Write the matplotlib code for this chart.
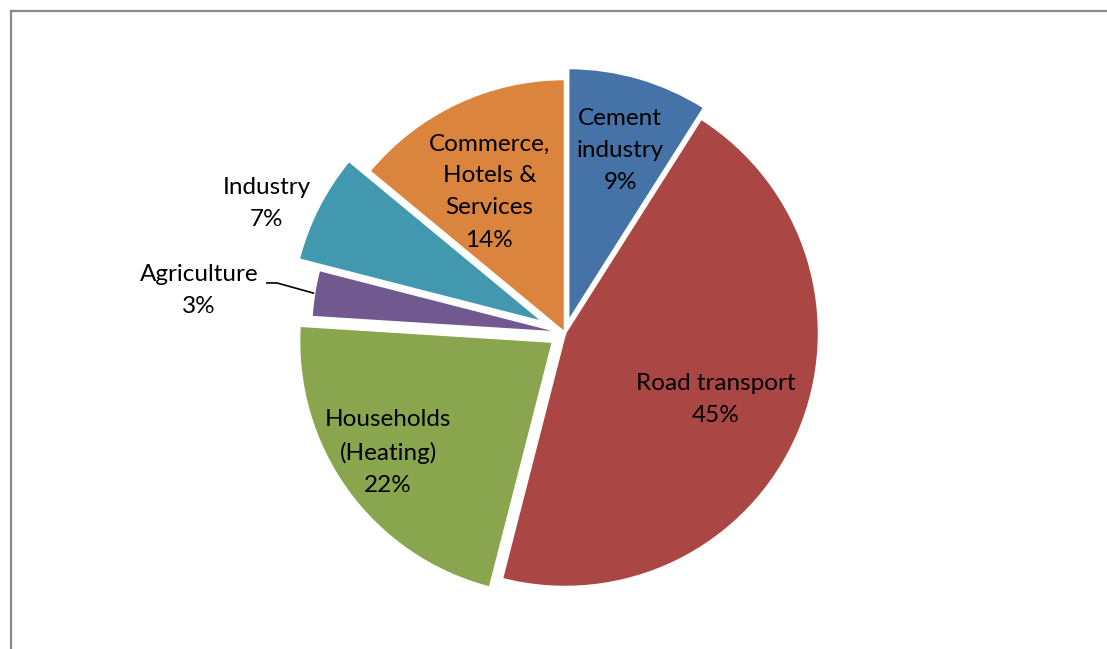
import numpy as np
import matplotlib
matplotlib.use("Agg")
import matplotlib.pyplot as plt
from matplotlib.lines import Line2D

sectors = ["Cement\nindustry", "Road transport", "Households\n(Heating)",
           "Agriculture", "Industry", "Commerce,\nHotels &\nServices"]
shares = [9, 45, 22, 3, 7, 14]
colors = ["#4572A7", "#AA4643", "#89A54E", "#71588F", "#4198AF", "#DB843D"]
explode = [0.045, 0, 0.058, 0, 0.09, 0]

# label placement: (radius, angle offset in degrees) relative to wedge middle
label_pos = [(0.75, -0.6), (0.65, -0.4), (0.84, -2.0), (1.45, 2.4), (1.28, 3.5), (0.63, 3.0)]

plt.rcParams['font.family'] = ['Lato', 'DejaVu Sans']

W, H = 1107, 649
cx, cy, R = 565, 333, 254

fig = plt.figure(figsize=(W / 100, H / 100), dpi=100)
ax = fig.add_axes([0, 0, 1, 1])

wedges, _ = ax.pie(shares, colors=colors, explode=explode, startangle=90,
                   counterclock=False, radius=1.0,
                   wedgeprops=dict(edgecolor="white", linewidth=1.8))

for w, name, share, (lr, off) in zip(wedges, sectors, shares, label_pos):
    mid = np.deg2rad((w.theta1 + w.theta2) / 2 + off)
    x, y = lr * np.cos(mid), lr * np.sin(mid)
    ax.text(x, y, f"{name}\n{share}%", ha="center", va="center",
            fontsize=17.5, color="black", linespacing=1.65)

# leader line for the small agriculture slice
agri = wedges[3]
amid = np.deg2rad((agri.theta1 + agri.theta2) / 2)
ex_pt = (np.cos(amid), np.sin(amid))
ax.plot([-1.177, -1.134, ex_pt[0]], [0.197, 0.197, ex_pt[1]],
        color="black", lw=1.2, solid_capstyle="butt")

ax.set_xlim(-cx / R, (W - cx) / R)
ax.set_ylim(-(H - cy) / R, cy / R)
ax.set_aspect("equal")
ax.axis("off")

# chart area frame (only top and left edges fall inside the image)
fig.add_artist(Line2D([11 / W, 11 / W], [0, 1 - 11 / H], transform=fig.transFigure,
                      color="#898989", lw=1.6))
fig.add_artist(Line2D([11 / W, 1], [1 - 11 / H, 1 - 11 / H], transform=fig.transFigure,
                      color="#898989", lw=1.6))

fig.savefig("out.png", dpi=100, facecolor="white")
